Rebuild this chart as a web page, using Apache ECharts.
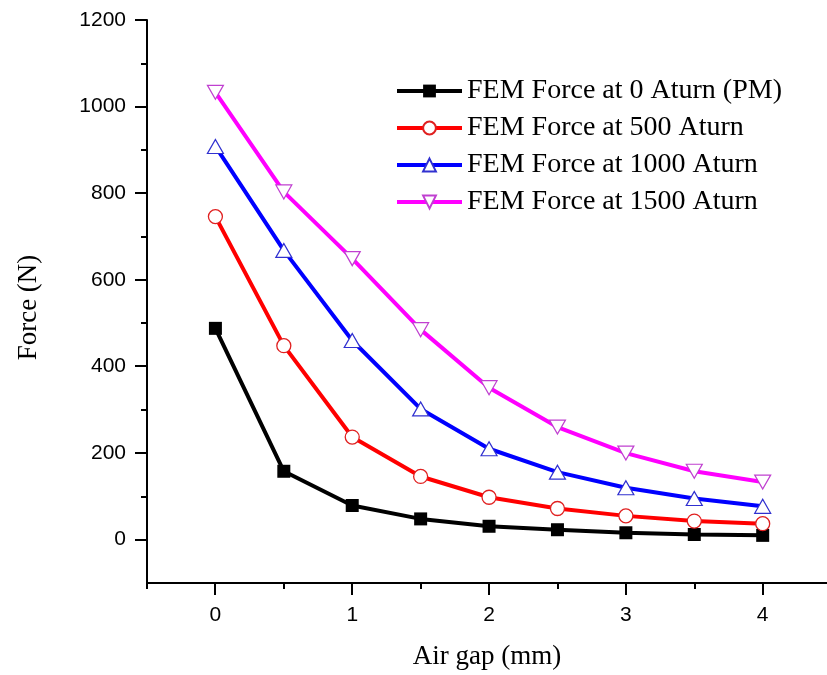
<!DOCTYPE html>
<html>
<head>
<meta charset="utf-8">
<script src="https://cdn.jsdelivr.net/npm/echarts@6/dist/echarts.min.js"></script>
<style>
html,body{margin:0;padding:0;background:#fff;}
#chart{width:827px;height:675px;}
</style>
</head>
<body>
<div id="chart"></div>
<script>
// ---- data ----
const airGap = [0, 0.5, 1, 1.5, 2, 2.5, 3, 3.5, 4];
const forcePM = [488, 158, 79, 48, 31, 23, 16, 12, 10];
const force500 = [746, 448, 237, 146, 98, 72, 55, 43, 37];
const force1000 = [908, 668, 460, 302, 210, 156, 120, 95, 77];
const force1500 = [1033, 803, 649, 485, 351, 260, 200, 158, 133];
const seriesNames = ['FEM Force at 0 Aturn (PM)', 'FEM Force at 500 Aturn', 'FEM Force at 1000 Aturn', 'FEM Force at 1500 Aturn'];
const xMajorTicks = [0, 1, 2, 3, 4];
const xMinorTicks = [-0.5, 0.5, 1.5, 2.5, 3.5];
const yMajorTicks = [0, 200, 400, 600, 800, 1000, 1200];
const yMinorTicks = [100, 300, 500, 700, 900, 1100];

const pair = (ys) => airGap.map((x, i) => [x, ys[i]]);

const serif = 'Liberation Serif';
const sans = 'Liberation Sans';
const X_MIN = -0.5, X_MAX = 4.47, Y_MIN = -100, Y_MAX = 1200;
const MAJOR_LEN = 12;
const ls = () => ({color: '#000', width: 2});

function tickAxis(min, max, pos, values, len) {
  return {
    type: 'value', min: min, max: max, position: pos, offset: 0,
    axisLine: {show: false, onZero: false},
    axisTick: {show: true, inside: false, length: len, lineStyle: ls(), customValues: values},
    axisLabel: {show: false},
    splitLine: {show: false}
  };
}

const chart = echarts.init(document.getElementById('chart'), null, {renderer: 'canvas'});
const option = {
  animation: false,
  backgroundColor: '#fff',
  grid: {left: 147, right: 0, top: 20, bottom: 92, containLabel: false},
  legend: {
    orient: 'vertical',
    left: 395,
    top: 77,
    padding: 0,
    itemWidth: 65,
    itemHeight: 16,
    itemGap: 9,
    textStyle: {fontFamily: serif, fontSize: 28, color: '#000'},
    data: seriesNames.map(n => ({name: n, lineStyle: {width: 4}}))
  },
  xAxis: [{
    type: 'value', min: X_MIN, max: X_MAX, position: 'bottom',
    name: 'Air gap (mm)', nameLocation: 'middle', nameGap: 60,
    nameTextStyle: {fontFamily: serif, fontSize: 27, color: '#000'},
    axisLine: {show: true, onZero: false, lineStyle: ls()},
    axisTick: {show: false},
    axisLabel: {fontFamily: sans, fontSize: 21, color: '#000', margin: 22, customValues: xMajorTicks,
                formatter: v => String(v)},
    splitLine: {show: false}
  },
    tickAxis(X_MIN, X_MAX, 'bottom', xMinorTicks, 6)
  ],
  yAxis: [{
    type: 'value', min: Y_MIN, max: Y_MAX, position: 'left',
    name: 'Force (N)', nameLocation: 'middle', nameGap: 105,
    nameTextStyle: {fontFamily: serif, fontSize: 27, color: '#000', padding: [0, 12, 0, 0]},
    axisLine: {show: true, onZero: false, lineStyle: ls()},
    axisTick: {show: false},
    axisLabel: {fontFamily: sans, fontSize: 21, color: '#000', margin: 21, customValues: yMajorTicks,
                formatter: v => String(v)},
    splitLine: {show: false}
  },
    tickAxis(Y_MIN, Y_MAX, 'left', yMinorTicks, 6)
  ],
  series: [{
    name: seriesNames[0], type: 'line', data: pair(forcePM),
    symbol: 'rect', symbolSize: 13, showAllSymbol: true,
    lineStyle: {color: '#000', width: 4},
    itemStyle: {color: '#000', borderColor: '#000', borderWidth: 0}
  }, {
    name: seriesNames[1], type: 'line', data: pair(force500),
    symbol: 'circle', symbolSize: 14, showAllSymbol: true,
    lineStyle: {color: '#ff0000', width: 4},
    itemStyle: {color: '#fff', borderColor: '#e02020', borderWidth: 1.3}
  }, {
    name: seriesNames[2], type: 'line', data: pair(force1000),
    symbol: 'triangle', symbolSize: [16, 14], showAllSymbol: true,
    lineStyle: {color: '#0000ff', width: 4},
    itemStyle: {color: '#fff', borderColor: '#3030d0', borderWidth: 1.2}
  }, {
    name: seriesNames[3], type: 'line', data: pair(force1500),
    symbol: 'triangle', symbolRotate: 180, symbolSize: [16, 14], showAllSymbol: true,
    lineStyle: {color: '#ff00ff', width: 4},
    itemStyle: {color: '#fff', borderColor: '#c040d0', borderWidth: 1.2}
  }]
};
chart.setOption(option);

// Major tick marks, positioned through the grid's own coordinate system
const tickRects = [];
yMajorTicks.forEach(v => {
  const p = chart.convertToPixel({gridIndex: 0}, [X_MIN, v]);
  if (p && isFinite(p[0]) && isFinite(p[1])) {
    tickRects.push({type: 'rect', silent: true, z: 100,
      shape: {x: p[0] - MAJOR_LEN, y: Math.round(p[1]) - 1, width: MAJOR_LEN, height: 2},
      style: {fill: '#000'}});
  }
});
xMajorTicks.forEach(v => {
  const p = chart.convertToPixel({gridIndex: 0}, [v, Y_MIN]);
  if (p && isFinite(p[0]) && isFinite(p[1])) {
    tickRects.push({type: 'rect', silent: true, z: 100,
      shape: {x: Math.round(p[0]) - 1, y: p[1], width: 2, height: MAJOR_LEN},
      style: {fill: '#000'}});
  }
});
chart.setOption({graphic: {elements: tickRects}});
</script>
</body>
</html>
